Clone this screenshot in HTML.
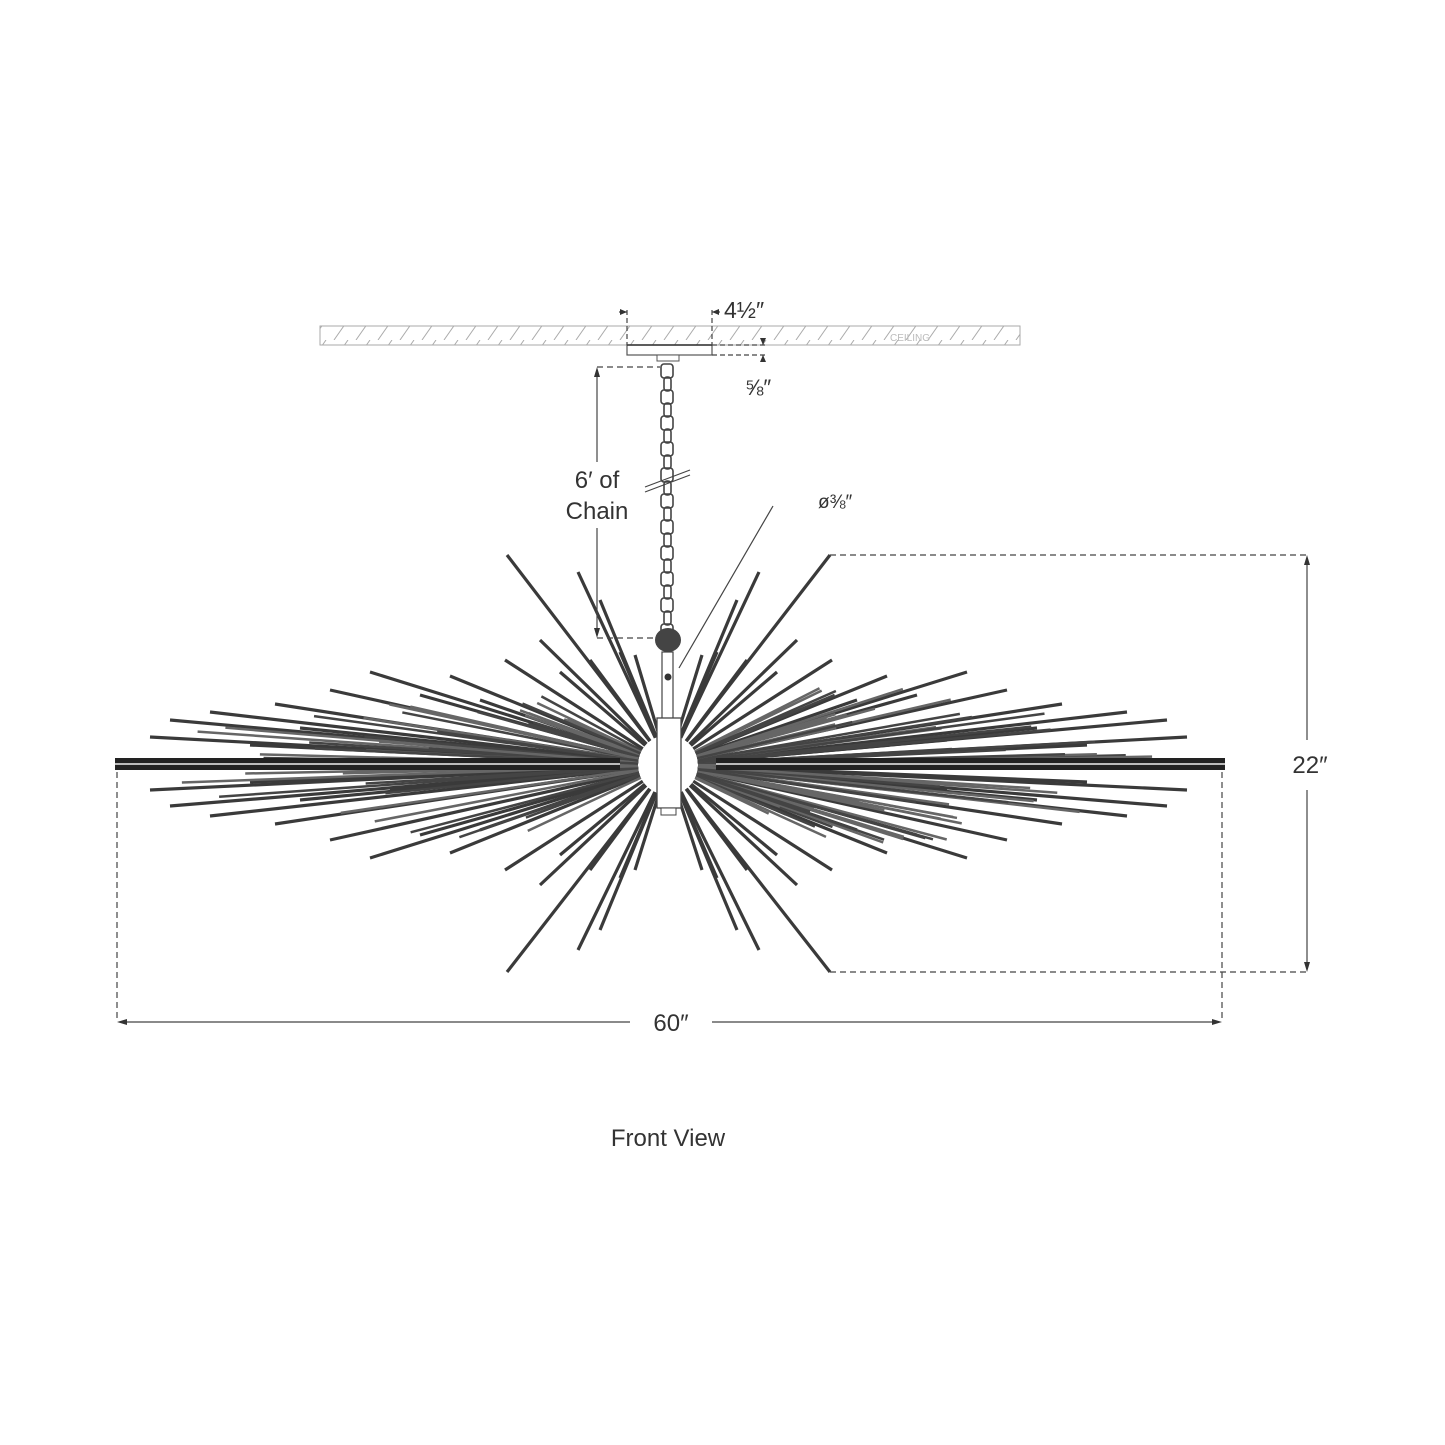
<!DOCTYPE html>
<html><head><meta charset="utf-8"><style>
html,body{margin:0;padding:0;background:#fff;}
svg{display:block}
text{font-family:"Liberation Sans","DejaVu Sans",sans-serif;fill:#333}
</style></head><body>
<svg id="s" width="1445" height="1445" viewBox="0 0 1445 1445" xmlns="http://www.w3.org/2000/svg">
<defs>
<pattern id="hatch" width="22" height="20" patternUnits="userSpaceOnUse">
<line x1="4" y1="20" x2="18" y2="0" stroke="#aaa" stroke-width="1"/>
</pattern>
</defs>
<rect x="320" y="326" width="700" height="19" fill="url(#hatch)" stroke="#aaa" stroke-width="1"/>
<text x="890" y="341" font-size="10" fill="#bbb" style="fill:#bbb">CEILING</text>
<g id="rods"></g>
<rect x="627" y="345" width="85" height="10" fill="#fff" stroke="#555" stroke-width="1.2"/>
<line x1="627" y1="345" x2="712" y2="345" stroke="#333" stroke-width="1.5"/>
<rect x="657" y="355" width="22" height="6" fill="#fff" stroke="#555"/>
<g id="chain"></g>
<ellipse cx="668" cy="640" rx="13" ry="12" fill="#444"/>
<rect x="662" y="652" width="11" height="68" fill="#fff" stroke="#444" stroke-width="1.2"/>
<circle cx="668" cy="677" r="3.5" fill="#333"/>
<rect x="657" y="718" width="24" height="90" fill="#fff" stroke="#444" stroke-width="1.3"/>
<rect x="661" y="808" width="15" height="7" fill="#fff" stroke="#444"/>
<g stroke="#444" stroke-width="1.2" fill="none">
<line x1="627" y1="310" x2="627" y2="345" stroke-dasharray="5,3"/>
<line x1="712" y1="310" x2="712" y2="345" stroke-dasharray="5,3"/>
<line x1="619" y1="312" x2="627" y2="312"/><line x1="712" y1="312" x2="720" y2="312"/>
<line x1="712" y1="345" x2="765" y2="345" stroke-dasharray="5,3"/>
<line x1="712" y1="355" x2="765" y2="355" stroke-dasharray="5,3"/>
<line x1="763" y1="339" x2="763" y2="345"/><line x1="763" y1="355" x2="763" y2="361"/>
<line x1="597" y1="367" x2="660" y2="367" stroke-dasharray="6,4"/>
<line x1="597" y1="638" x2="655" y2="638" stroke-dasharray="6,4"/>
<line x1="597" y1="372" x2="597" y2="462"/>
<line x1="597" y1="528" x2="597" y2="632"/>
<line x1="645" y1="492" x2="690" y2="475"/><line x1="645" y1="487" x2="690" y2="470"/>
<line x1="773" y1="506" x2="679" y2="668"/>
<line x1="830" y1="555" x2="1310" y2="555" stroke-dasharray="6,4"/>
<line x1="830" y1="972" x2="1310" y2="972" stroke-dasharray="6,4"/>
<line x1="1307" y1="560" x2="1307" y2="740"/>
<line x1="1307" y1="790" x2="1307" y2="967"/>
<line x1="117" y1="772" x2="117" y2="1022" stroke-dasharray="6,4"/>
<line x1="1222" y1="772" x2="1222" y2="1022" stroke-dasharray="6,4"/>
<line x1="120" y1="1022" x2="630" y2="1022"/>
<line x1="712" y1="1022" x2="1219" y2="1022"/>
</g>
<g fill="#333">
<polygon points="597,367 594,377 600,377"/><polygon points="597,638 594,628 600,628"/>
<polygon points="1307,555 1304,565 1310,565"/><polygon points="1307,972 1304,962 1310,962"/>
<polygon points="117,1022 127,1019 127,1025"/><polygon points="1222,1022 1212,1019 1212,1025"/>
<polygon points="627,312 620,309 620,315"/><polygon points="712,312 719,309 719,315"/>
<polygon points="763,345 760,338 766,338"/><polygon points="763,355 760,362 766,362"/>
</g>
<text x="724" y="318" font-size="23">4½″</text>
<text x="745" y="395" font-size="22">⅝″</text>
<text x="597" y="488" font-size="24" text-anchor="middle">6′ of</text>
<text x="597" y="519" font-size="24" text-anchor="middle">Chain</text>
<text x="818" y="508" font-size="19">ø⅜″</text>
<text x="1310" y="773" font-size="24" text-anchor="middle">22″</text>
<text x="671" y="1031" font-size="24" text-anchor="middle">60″</text>
<text x="668" y="1146" font-size="24" text-anchor="middle">Front View</text>
</svg>
<script>
(function(){
var NS="http://www.w3.org/2000/svg";
var g=document.getElementById('rods'),ch=document.getElementById('chain');
function ln(p,x1,y1,x2,y2,c,w){var l=document.createElementNS(NS,'line');l.setAttribute('x1',x1);l.setAttribute('y1',y1);l.setAttribute('x2',x2);l.setAttribute('y2',y2);l.setAttribute('stroke',c);l.setAttribute('stroke-width',w);p.appendChild(l);}
var cx=668,cy=765;
var seed=7;function r(){seed=(seed*16807)%2147483647;return seed/2147483647;}
function rod(tx,ty,w,c){var dx=tx-cx,dy=ty-cy,L=Math.sqrt(dx*dx+dy*dy);var sx=cx+dx/L*30,sy=cy+dy/L*30;ln(g,sx,sy,tx,ty,c||'#3a3a3a',w||3.2);}
var tips=[[150,737],[150,790],[170,720],[170,806],[210,712],[210,816],[275,704],[275,824],[330,690],[330,840],[370,672],[370,858],[450,676],[450,853],[505,660],[505,870],[540,640],[540,885],[560,672],[560,855],[590,660],[590,870],[620,652],[620,878],[635,655],[635,870],[507,555],[507,972],[578,572],[578,950],[600,600],[600,930],[480,700],[480,830],[420,695],[420,835],[250,745],[250,782],[300,728],[300,800],[390,740],[390,790]];
tips.forEach(function(t){rod(t[0],t[1]);rod(2*cx-t[0]+1,t[1]);});
for(var i=0;i<130;i++){var side=r()<0.5?-1:1;var a=(r()-0.5);a=a*Math.abs(a)*2.0;var deg=Math.abs(a)*57.3;var Lmax=555/(1+Math.pow(deg/16,1.3));var L=Lmax*(0.5+0.5*r());var tx=cx+side*Math.cos(a)*L,ty=cy+Math.sin(a)*L;rod(tx,ty,2.5,r()<0.5?'#444':'#666');}
ln(g,115,764,620,764,'#222',12);ln(g,716,764,1225,764,'#222',12);
ln(g,115,764,620,764,'#bbb',2);ln(g,716,764,1225,764,'#bbb',2);
for(var y=364;y<628;y+=13){var rc=document.createElementNS(NS,'rect');var odd=((y-364)/13)%2;rc.setAttribute('x',odd?664:661);rc.setAttribute('y',y);rc.setAttribute('width',odd?7:12);rc.setAttribute('height',14);rc.setAttribute('rx',3);rc.setAttribute('fill','none');rc.setAttribute('stroke','#444');rc.setAttribute('stroke-width',1.6);ch.appendChild(rc);}
})();
</script>
</body></html>
